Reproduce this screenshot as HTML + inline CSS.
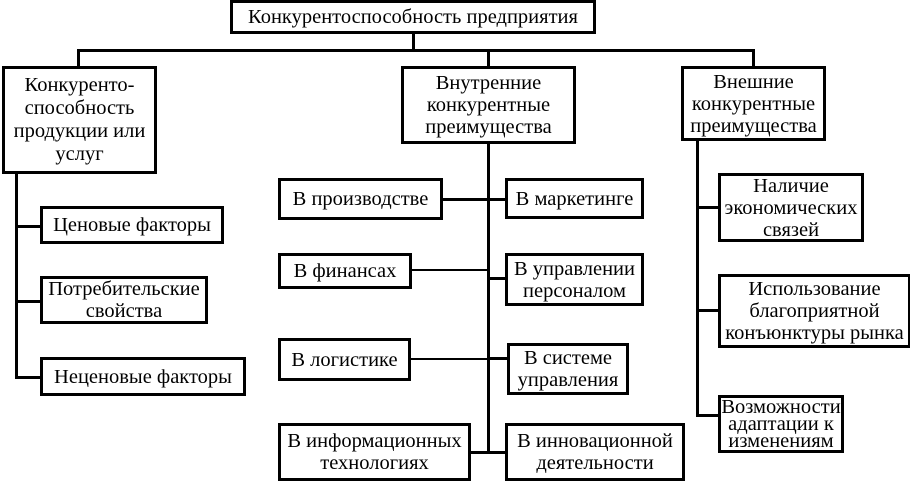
<!DOCTYPE html>
<html><head><meta charset="utf-8"><style>
body{margin:0;width:910px;height:483px;background:#fff;position:relative;overflow:hidden;font-family:"Liberation Serif",serif;font-size:20.5px;color:#000}
.b{position:absolute;box-sizing:border-box;border:3px solid #000;display:flex;align-items:center;justify-content:center;text-align:center;line-height:22px;background:#fff;white-space:nowrap}
.l{position:absolute;background:#000}
</style></head><body>
<div class="l" style="left:412px;top:30px;width:3px;height:22px"></div>
<div class="l" style="left:77px;top:49px;width:678px;height:3px"></div>
<div class="l" style="left:77px;top:49px;width:3px;height:20px"></div>
<div class="l" style="left:487px;top:49px;width:3px;height:20px"></div>
<div class="l" style="left:752px;top:49px;width:3px;height:20px"></div>
<div class="l" style="left:15px;top:170px;width:3px;height:209px"></div>
<div class="l" style="left:15px;top:225px;width:27px;height:3px"></div>
<div class="l" style="left:15px;top:300px;width:27px;height:3px"></div>
<div class="l" style="left:15px;top:376px;width:27px;height:3px"></div>
<div class="l" style="left:487px;top:140px;width:3px;height:314px"></div>
<div class="l" style="left:440px;top:198px;width:67px;height:3px"></div>
<div class="l" style="left:409px;top:269px;width:80px;height:2px"></div>
<div class="l" style="left:487px;top:277px;width:20px;height:3px"></div>
<div class="l" style="left:408px;top:358px;width:81px;height:2px"></div>
<div class="l" style="left:487px;top:357px;width:22px;height:3px"></div>
<div class="l" style="left:468px;top:451px;width:39px;height:3px"></div>
<div class="l" style="left:696px;top:138px;width:3px;height:279px"></div>
<div class="l" style="left:696px;top:206px;width:24px;height:3px"></div>
<div class="l" style="left:696px;top:309px;width:24px;height:3px"></div>
<div class="l" style="left:696px;top:414px;width:24px;height:3px"></div>
<div class="b" style="left:230px;top:0;width:366px;height:34px">Конкурентоспособность предприятия</div>
<div class="b" style="left:2px;top:66px;width:155px;height:108px;line-height:23px">Конкуренто-<br>способность<br>продукции или<br>услуг</div>
<div class="b" style="left:401px;top:66px;width:175px;height:78px">Внутренние<br>конкурентные<br>преимущества</div>
<div class="b" style="left:681px;top:66px;width:145px;height:75px">Внешние<br>конкурентные<br>преимущества</div>
<div class="b" style="left:40px;top:206px;width:184px;height:38px">Ценовые факторы</div>
<div class="b" style="left:40px;top:276px;width:168px;height:48px">Потребительские<br>свойства</div>
<div class="b" style="left:40px;top:357px;width:206px;height:39px">Неценовые факторы</div>
<div class="b" style="left:278px;top:178px;width:165px;height:42px">В производстве</div>
<div class="b" style="left:505px;top:178px;width:139px;height:41px">В маркетинге</div>
<div class="b" style="left:278px;top:253px;width:134px;height:36px">В финансах</div>
<div class="b" style="left:505px;top:253px;width:139px;height:53px">В управлении<br>персоналом</div>
<div class="b" style="left:278px;top:338px;width:133px;height:43px">В логистике</div>
<div class="b" style="left:507px;top:343px;width:122px;height:52px">В системе<br>управления</div>
<div class="b" style="left:278px;top:423px;width:193px;height:58px">В информационных<br>технологиях</div>
<div class="b" style="left:505px;top:423px;width:180px;height:58px">В инновационной<br>деятельности</div>
<div class="b" style="left:718px;top:173px;width:146px;height:69px">Наличие<br>экономических<br>связей</div>
<div class="b" style="left:718px;top:274px;width:193px;height:74px">Использование<br>благоприятной<br>конъюнктуры рынка</div>
<div class="b" style="left:718px;top:395px;width:126px;height:58px;line-height:17px">Возможности<br>адаптации к<br>изменениям</div>
</body></html>
